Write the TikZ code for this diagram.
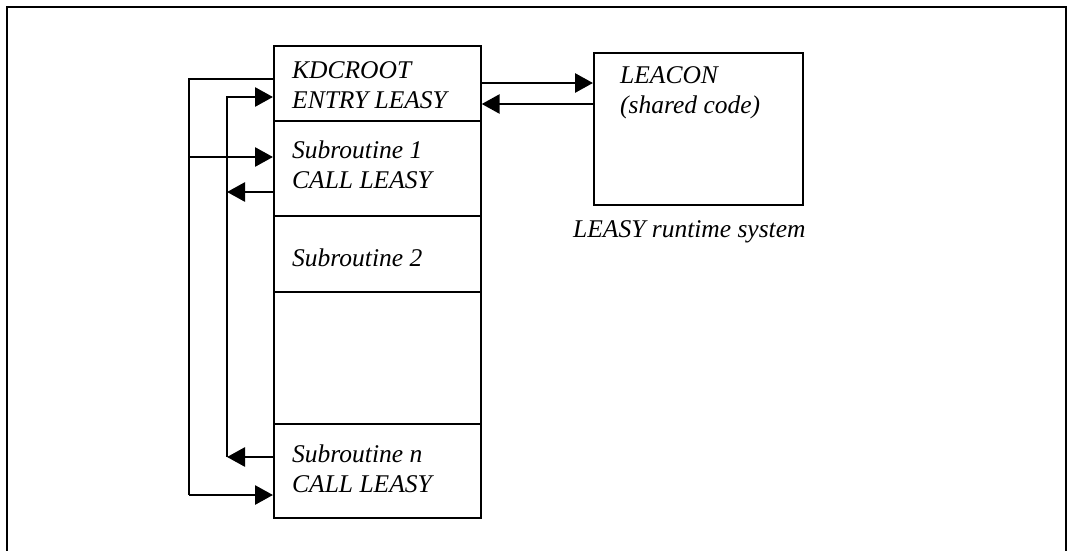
\documentclass[tikz,border=0pt]{standalone}
\usepackage{fontspec}
\setmainfont{Liberation Serif}
\usetikzlibrary{arrows.meta}
\begin{document}
\begin{tikzpicture}[x=1pt,y=-1pt,
  box/.style={draw,line width=1.7pt,inner sep=0pt,anchor=north west,minimum width=207pt},
  lbl/.style={anchor=base west,inner sep=0pt,align=left,font=\fontsize{25.5}{29.5}\selectfont\itshape},
  conn/.style={line width=2.8pt},
  arr/.style={line width=2.8pt,-{Triangle[length=18pt,width=19pt]}}]
\useasboundingbox (0,0) rectangle (1070,551);
\draw[line width=2pt] (7,551) -- (7,7) -- (1066,7) -- (1066,551);
% main column
\node[box,minimum height=75pt] (root) at (273,45) {};
\node[box,minimum height=95pt] (sub1) at (273,120) {};
\node[box,minimum height=76pt] (sub2) at (273,215) {};
\node[box,minimum height=132pt] (blank) at (273,291) {};
\node[box,minimum height=94pt] (subn) at (273,423) {};
\node[box,minimum width=209pt,minimum height=152pt] (leacon) at (593,52) {};
% labels (base = baseline of last line)
\node[lbl] (troot) at (292,108) {KDCROOT\\ENTRY LEASY};
\node[lbl] (tsub1) at (292,188) {Subroutine 1\\CALL LEASY};
\node[lbl] (tsub2) at (292,266) {Subroutine 2};
\node[lbl] (tsubn) at (292,492) {Subroutine n\\CALL LEASY};
\node[lbl] (tleacon) at (620,113) {LEACON\\(shared code)};
\node[lbl] (truntime) at (573,237) {LEASY runtime system};
% rails
\coordinate (oTop) at (189,79);
\coordinate (o1) at (189,157);
\coordinate (oBot) at (189,495);
\coordinate (iTop) at (227,97);
\coordinate (i1) at (227,192);
\coordinate (iBot) at (227,457);
\coordinate (a1) at (480,83);
\coordinate (a2) at (480,104);
% outer rail
\draw[conn] (root.west |- oTop) -- (oTop) -- (oBot);
\draw[arr] (o1) -- (sub1.west |- o1);
\draw[arr] (oBot) -- (subn.west |- oBot);
% inner rail
\draw[arr] (iBot) -- (iTop) -- (root.west |- iTop);
\draw[arr] (sub1.west |- i1) -- (i1);
\draw[arr] (subn.west |- iBot) -- (iBot);
% LEACON calls
\draw[arr] (root.east |- a1) -- (leacon.west |- a1);
\draw[arr] (leacon.west |- a2) -- (root.east |- a2);
\end{tikzpicture}
\end{document}
